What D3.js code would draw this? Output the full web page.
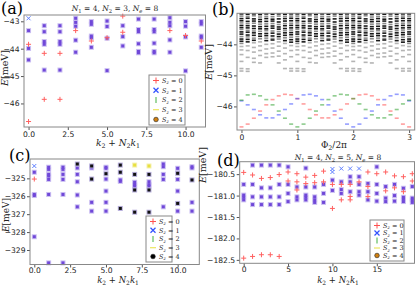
<!DOCTYPE html>
<html><head><meta charset="utf-8">
<script src="https://cdn.jsdelivr.net/npm/d3@7"></script>
<style>body{margin:0;background:#fff}svg{display:block}</style>
</head><body>
<svg id="c" width="416" height="285"></svg>
<script>
// ---------------- DATA ----------------
// Panel (a): N1=4, N2=3, Ne=8
const aXTicks = [0, 2.5, 5, 7.5, 10];
const aYTicks = [-43, -44, -45, -46];
const aRed = [[0,-43.84],[0,-46.66],[1,-44.17],[1,-45.85],[2,-44.17],[2,-45.85],[3,-43.34],[4,-43.72],[5,-43.6],[6,-42.81],[6,-43.4],[9,-43.34],[10,-43.52],[11,-43.72]];
const aBlue = [[0,-42.89]];
const aMix = [[0,-43.34],[0,-43.99],[0,-44.41],
  [1,-43.16],[1,-43.38],[1,-43.74],[1,-43.84],[1,-44.78],
  [2,-43.16],[2,-43.38],[2,-43.74],[2,-43.84],[2,-44.78],
  [3,-42.89],[3,-43.04],[3,-43.18],[3,-43.69],[3,-44.13],
  [4,-43.01],[4,-43.11],[4,-43.54],[4,-43.6],[4,-43.95],
  [5,-42.99],[5,-43.19],[5,-43.62],[5,-44.8],
  [6,-43.16],[6,-43.56],[6,-43.9],
  [7,-42.92],[7,-43.3],[7,-43.38],[7,-43.82],[7,-44.1],[7,-44.15],
  [8,-42.92],[8,-43.3],[8,-43.38],[8,-43.8],[8,-44.1],[8,-44.15],
  [9,-42.87],[9,-43.04],[9,-43.16],[9,-43.68],[9,-44.13],
  [10,-43.01],[10,-43.18],[10,-43.57],[10,-44.81],
  [11,-43.01],[11,-43.1],[11,-43.54],[11,-43.6],[11,-43.95]];

// Panel (b): spectral flow
const bXTicks = [0, 1, 2, 3];
const bYTicks = [-44, -45, -46];
const bPhi = [0,0.111,0.222,0.333,0.444,0.556,0.667,0.778,0.889,1,1.111,1.222,1.333,1.444,1.556,1.667,1.778,1.889,2,2.111,2.222,2.333,2.444,2.556,2.667,2.778,2.889,3];
const bContDark = [
  [-43.02,-43.09,-43.17,-43.24,-43.31,-43.39,-43.46,-43.52,-43.6,-43.67,-43.75,-43.83,-43.9,-43.97],
  [-43.03,-43.1,-43.16,-43.26,-43.33,-43.4,-43.47,-43.55,-43.61,-43.7,-43.76,-43.84,-43.92],
  [-43.02,-43.08,-43.18,-43.25,-43.32,-43.41,-43.49,-43.57,-43.63,-43.71,-43.8,-43.87],
  [-43.04,-43.12,-43.2,-43.27,-43.35,-43.43,-43.5,-43.58,-43.66,-43.74,-43.82],
  [-43.02,-43.1,-43.17,-43.26,-43.34,-43.42,-43.5,-43.56,-43.65,-43.72,-43.8,-43.88],
  [-43.03,-43.11,-43.19,-43.25,-43.33,-43.41,-43.48,-43.57,-43.64,-43.73,-43.81,-43.86],
  [-43.02,-43.09,-43.18,-43.28,-43.36,-43.44,-43.51,-43.59,-43.67,-43.75,-43.83],
  [-43.03,-43.1,-43.17,-43.25,-43.33,-43.4,-43.49,-43.56,-43.63,-43.71,-43.79,-43.88],
  [-43.02,-43.09,-43.16,-43.24,-43.32,-43.39,-43.47,-43.54,-43.62,-43.69,-43.77,-43.85,-43.93]];
const bContGray = [
  [-44.07,-44.18,-44.33,-44.55,-44.78,-44.86],
  [-44.05,-44.2,-44.42,-44.79,-44.87],
  [-43.95,-44.1,-44.25,-44.45,-44.58],
  [-43.92,-44.05,-44.2,-44.36,-44.6],
  [-44.0,-44.15,-44.3,-44.42],
  [-43.98,-44.12,-44.28,-44.4],
  [-43.92,-44.06,-44.22,-44.38,-44.6],
  [-43.97,-44.12,-44.3,-44.5,-44.78],
  [-44.04,-44.2,-44.4,-44.78,-44.86]];
const bRed   = [-46.66,-46.57,-46.38,-46.15,-45.95,-45.78,-45.66,-45.61,-45.63,-45.75,-45.92,-46.1,-46.27,-46.37,-46.37,-46.27,-46.1,-45.92,-45.75,-45.63,-45.61,-45.66,-45.78,-45.95,-46.15,-46.38,-46.57,-46.66];
const bGreen = [-45.8,-45.63,-45.61,-45.66,-45.78,-45.95,-46.15,-46.38,-46.57,-46.66,-46.57,-46.38,-46.15,-45.95,-45.78,-45.66,-45.61,-45.63,-45.75,-45.92,-46.1,-46.27,-46.37,-46.37,-46.27,-46.1,-45.92,-45.8];
const bBlue  = [-45.82,-45.95,-46.1,-46.27,-46.37,-46.37,-46.27,-46.1,-45.92,-45.75,-45.63,-45.61,-45.66,-45.78,-45.95,-46.15,-46.38,-46.57,-46.66,-46.57,-46.38,-46.15,-45.95,-45.78,-45.66,-45.61,-45.63,-45.82];

// Panel (c)
const cXTicks = [0, 2.5, 5, 7.5, 10];
const cYTicks = [-325, -326, -327, -328, -329];
const cRed = [[0,-325.04]];
const cBlue = [[0,-324.31]];
const cYellow = [[7,-324.26],[8,-324.31]];
const cBlack = [[3,-324.2],[4,-324.31],[4,-325.04],[5,-324.74],[6,-324.26],[6,-324.66],[6,-326.68],[7,-324.78],[7,-325.65],[7,-326.89],[8,-324.78],[8,-325.65],[8,-326.89],[10,-324.72],[10,-326.4],[11,-325.09]];
const cMix = [[0,-324.66],[0,-325.9],[0,-325.96],[0,-328.26],
  [1,-324.38],[1,-324.5],[1,-324.78],[1,-324.87],[1,-325.06],[1,-325.9],[1,-329.72],
  [2,-324.38],[2,-324.5],[2,-324.78],[2,-325.06],[2,-325.9],[2,-329.72],
  [3,-324.42],[3,-324.78],[3,-325.19],[3,-325.93],[3,-326.59],
  [4,-324.42],[4,-326.34],[4,-326.83],
  [5,-324.38],[5,-324.44],[5,-325.04],[5,-325.71],[5,-326.34],[5,-326.83],
  [6,-325.09],[6,-325.17],
  [7,-325.22],[7,-325.35],[7,-325.43],
  [8,-325.19],[8,-325.35],[8,-325.43],
  [9,-324.2],[9,-324.35],[9,-324.78],[9,-325.06],[9,-326.59],
  [10,-324.44],[10,-325.06],[10,-325.71],[10,-326.83],
  [11,-324.35],[11,-324.42],[11,-326.34],[11,-326.83]];

// Panel (d): N1=4, N2=5, Ne=8
const dXTicks = [0, 5, 10, 15];
const dYTicks = [-180.5, -181.0, -181.5, -182.0, -182.5];
const dRed = [[0,-180.46],[0,-182.46],[1,-180.52],[1,-182.42],[2,-180.6],[2,-182.38],[3,-180.58],[3,-182.38],[4,-180.51],[4,-182.42],
  [5,-180.45],[5,-180.66],[6,-180.49],[6,-180.68],[6,-180.87],[7,-180.57],[7,-180.72],[8,-180.53],[8,-180.7],[9,-180.43],[9,-180.68],
  [10,-181.3],[10,-180.74],[11,-180.74],[11,-181.1],[12,-180.74],[12,-181.02],[12,-181.1],[13,-180.68],[14,-180.45],[14,-180.79],[14,-181.02],
  [15,-180.49],[16,-180.45],[16,-180.89],[17,-180.54],[17,-180.82],[18,-180.56],[18,-180.91],[19,-180.49],[19,-180.66]];
const dBlue = [[10,-180.38],[10,-180.45],[11,-180.37],[12,-180.37],[13,-180.37]];
const dMix = [[0,-180.74],[0,-180.99],[0,-181.04],[0,-181.1],
  [1,-180.29],[1,-180.74],[1,-181.03],[1,-181.21],
  [2,-180.29],[2,-180.82],[2,-181.03],[2,-181.21],
  [3,-180.29],[3,-180.82],[3,-181.03],[3,-181.21],
  [4,-180.29],[4,-180.74],[4,-181.03],[4,-181.21],
  [5,-180.33],[5,-180.74],[5,-180.95],[5,-181.14],
  [6,-180.8],[6,-181.03],[6,-181.1],
  [7,-180.36],[7,-180.8],[7,-180.99],[7,-181.04],[7,-181.1],
  [8,-180.8],[8,-181.03],[8,-181.1],[8,-181.16],
  [9,-180.74],[9,-180.95],[9,-181.16],
  [10,-180.64],[10,-180.88],
  [11,-180.68],[11,-180.86],[11,-180.95],
  [12,-180.56],[12,-180.68],[12,-180.91],
  [13,-180.56],[13,-180.74],[13,-180.91],[13,-180.99],
  [14,-180.72],[14,-180.91],[14,-181.1],
  [15,-180.33],[15,-180.74],[15,-180.95],[15,-181.13],
  [16,-180.79],[16,-181.06],[16,-181.14],
  [17,-180.74],[17,-181.0],[17,-181.13],
  [18,-180.83],[18,-181.04],[18,-181.08],[18,-181.14],
  [19,-180.79],[19,-181.06],[19,-181.1],[19,-181.16]];

// ---------------- DRAW ----------------
const svg = d3.select('#c');
const SERIF = "'DejaVu Serif','Liberation Serif',serif";
const SANS = "'DejaVu Sans',sans-serif";

function mtext(g, x, y, parts, size, anchor, rotate){
  const t = g.append('text').attr('x', x).attr('y', y)
    .attr('font-family', SERIF).attr('font-size', size).attr('fill', '#222')
    .attr('text-anchor', anchor || 'middle');
  if (rotate) t.attr('transform', `rotate(-90,${x},${y})`);
  let sub = false;
  parts.forEach(p => {
    const s = t.append('tspan').text(p[0]);
    const isSub = p[1].includes('s');
    if (p[1].includes('i')) s.attr('font-style', 'italic');
    if (isSub) s.attr('font-size', size * 0.7);
    if (isSub && !sub) s.attr('dy', size * 0.25);
    if (!isSub && sub) s.attr('dy', -size * 0.25);
    sub = isSub;
  });
  return t;
}

function makePanel(box, xd, yd, xt, yt, xfmt, yfmt, pad){
  const x = d3.scaleLinear().domain(xd).range([box.l, box.r]);
  const y = d3.scaleLinear().domain(yd).range([box.t, box.b]);
  const g = svg.append('g');
  const ax = g.append('g').attr('transform', `translate(0,${box.b})`)
    .call(d3.axisBottom(x).tickValues(xt).tickFormat(xfmt).tickSize(3).tickPadding(pad));
  const ay = g.append('g').attr('transform', `translate(${box.l},0)`)
    .call(d3.axisLeft(y).tickValues(yt).tickFormat(yfmt).tickSize(3).tickPadding(1.5));
  [ax, ay].forEach(a => {
    a.select('.domain').remove();
    a.selectAll('line').attr('stroke', '#555');
    a.selectAll('text').attr('font-family', SANS).attr('font-size', 7.6).attr('fill', '#222');
  });
  const plot = g.append('g');
  g.append('rect').attr('x', box.l).attr('y', box.t).attr('width', box.r - box.l).attr('height', box.b - box.t)
    .attr('fill', 'none').attr('stroke', '#888').attr('stroke-width', 1);
  return {x, y, g, plot};
}
const minus = s => s.replace('-', '\u2212');
const f1 = d => minus(d3.format('.1f')(d));
const f0 = d => minus(d3.format('d')(d));

function mixMarks(p, data, core, halo){
  p.plot.selectAll(null).data(data).enter().append('rect')
    .attr('x', d => p.x(d[0]) - 2.5).attr('y', d => p.y(d[1]) - 2.5).attr('width', 5).attr('height', 5)
    .attr('fill', halo);
  p.plot.selectAll(null).data(data).enter().append('rect')
    .attr('x', d => p.x(d[0]) - 1.5).attr('y', d => p.y(d[1]) - 1.5).attr('width', 3).attr('height', 3)
    .attr('fill', core);
}
function plusMarks(p, data, col){
  p.plot.selectAll(null).data(data).enter().append('path')
    .attr('d', d => { const X = p.x(d[0]), Y = p.y(d[1]); return `M${X-2.5},${Y}H${X+2.5}M${X},${Y-2.5}V${Y+2.5}`; })
    .attr('stroke', col).attr('stroke-width', 1).attr('fill', 'none');
}
function xMarks(p, data, col){
  p.plot.selectAll(null).data(data).enter().append('path')
    .attr('d', d => { const X = p.x(d[0]), Y = p.y(d[1]); return `M${X-2},${Y-2}L${X+2},${Y+2}M${X-2},${Y+2}L${X+2},${Y-2}`; })
    .attr('stroke', col).attr('stroke-width', 1).attr('fill', 'none');
}

function legend(g, lx, ly, w, h, rows, markerS4){
  g.append('rect').attr('x', lx).attr('y', ly).attr('width', w).attr('height', h)
    .attr('fill', '#fff').attr('stroke', '#888').attr('stroke-width', 1);
  const step = (h - 11) / 4;
  rows.forEach((r, i) => {
    const cy = ly + 5.5 + i * step, mx = lx + 7;
    if (i === 0) g.append('path').attr('d', `M${mx-3},${cy}H${mx+3}M${mx},${cy-3}V${cy+3}`).attr('stroke', '#ff5050');
    if (i === 1) g.append('path').attr('d', `M${mx-2.5},${cy-2.5}L${mx+2.5},${cy+2.5}M${mx-2.5},${cy+2.5}L${mx+2.5},${cy-2.5}`).attr('stroke', '#3050ff').attr('stroke-width', 1.2);
    if (i === 2) g.append('path').attr('d', `M${mx},${cy-3}V${cy+3}`).attr('stroke', '#40b040');
    if (i === 3) g.append('path').attr('d', `M${mx-3},${cy}H${mx+3}`).attr('stroke', '#e8e040');
    if (i === 4) g.append('circle').attr('cx', mx).attr('cy', cy).attr('r', 2.3).attr('fill', markerS4).attr('stroke', '#222').attr('stroke-width', 0.6);
    mtext(g, lx + 13, cy + 2.3, [['S','i'],['z','si'],[' = ' + r,'r']], 6.5, 'start');
  });
}

// ---- (a)
{
  const p = makePanel({l:24, r:205.5, t:15, b:127}, [-0.29, 11.27], [-42.77, -46.86], aXTicks, aYTicks, f1, f0, 1.5);
  mixMarks(p, aMix, '#7048d8', '#cbbff2');
  xMarks(p, aBlue, '#6080ff');
  plusMarks(p, aRed, '#ff6060');
  legend(p.g, 149, 75, 36, 50, ['0','1','2','3','4'], '#d08010');
  mtext(svg, 115, 11, [['N','i'],['1','s'],[' = 4, ','r'],['N','i'],['2','s'],[' = 3, ','r'],['N','i'],['e','si'],[' = 8','r']], 7.5, 'middle');
  mtext(svg, 8, 68, [['E','i'],['[meV]','r']], 9.5, 'middle', true);
  mtext(svg, 118, 146, [['k','i'],['2','s'],[' + ','r'],['N','i'],['2','s'],['k','i'],['1','s']], 9, 'middle');
  svg.append('text').attr('x', 1).attr('y', 13.5).attr('font-family', SERIF).attr('font-size', 16).text('(a)');
}
// ---- (b)
{
  const p = makePanel({l:237, r:414.7, t:13.3, b:130}, [-0.08, 3.1], [-43.0, -46.76], bXTicks, bYTicks, f0, f0, 1.5);
  const dash = (phi, e, col, op) => p.plot.append('rect').attr('x', p.x(phi) - 2).attr('y', p.y(e) - 0.8)
      .attr('width', 4).attr('height', 1.6).attr('fill', col).attr('opacity', op);
  bPhi.forEach((phi, j) => {
    const k = j % 9;
    bContDark[k].forEach((e, i) => dash(phi, e, '#000', i % 3 === 1 ? 0.45 : 0.9));
    bContGray[k].forEach(e => dash(phi, e, '#777', 0.55));
    dash(phi, bRed[j], '#ff5050', 0.55);
    dash(phi, bBlue[j], '#4050ff', 0.55);
    dash(phi, bGreen[j], '#30a030', 0.55);
  });
  mtext(svg, 212, 62, [['E','i'],['[meV]','r']], 9.5, 'middle', true);
  mtext(svg, 334, 148, [['\u03A6','r'],['2','s'],['/2\u03C0','r']], 9, 'middle');
  svg.append('text').attr('x', 212).attr('y', 15).attr('font-family', SERIF).attr('font-size', 16).text('(b)');
}
// ---- (c)
{
  const p = makePanel({l:30, r:199.3, t:159, b:264.5}, [-0.3, 11.51], [-323.92, -329.81], cXTicks, cYTicks, f1, f0, 0.5);
  mixMarks(p, cMix, '#7048d8', '#cbbff2');
  mixMarks(p, cBlack, '#111', '#b8b0dc');
  mixMarks(p, cYellow, '#e8e040', '#f4f0b0');
  xMarks(p, cBlue, '#6080ff');
  plusMarks(p, cRed, '#ff6060');
  legend(p.g, 146, 216, 26, 46, ['0','1','2','3','4'], '#000');
  mtext(svg, 9, 215, [['E','i'],['[meV]','r']], 9, 'middle', true);
  mtext(svg, 118, 282.5, [['k','i'],['2','s'],[' + ','r'],['N','i'],['2','s'],['k','i'],['1','s']], 8.5, 'middle');
  svg.append('text').attr('x', 9).attr('y', 161).attr('font-family', SERIF).attr('font-size', 16).text('(c)');
}
// ---- (d)
{
  const p = makePanel({l:239.7, r:414.5, t:161.7, b:263.3}, [-0.45, 19.25], [-180.21, -182.58], dXTicks, dYTicks, f0, f1, 0.5);
  mixMarks(p, dMix, '#7048d8', '#cbbff2');
  xMarks(p, dBlue, '#6080ff');
  plusMarks(p, dRed, '#ff6060');
  legend(p.g, 370, 220, 34, 41, ['0','1','2','3','4'], '#d08010');
  mtext(svg, 338, 160, [['N','i'],['1','s'],[' = 4, ','r'],['N','i'],['2','s'],[' = 5, ','r'],['N','i'],['e','si'],[' = 8','r']], 7.5, 'middle');
  mtext(svg, 206, 165, [['E','i'],['[meV]','r']], 9.5, 'middle', true);
  mtext(svg, 338, 282.5, [['k','i'],['2','s'],[' + ','r'],['N','i'],['2','s'],['k','i'],['1','s']], 8.5, 'middle');
  svg.append('text').attr('x', 217).attr('y', 166).attr('font-family', SERIF).attr('font-size', 16).text('(d)');
}
</script>
</body></html>
